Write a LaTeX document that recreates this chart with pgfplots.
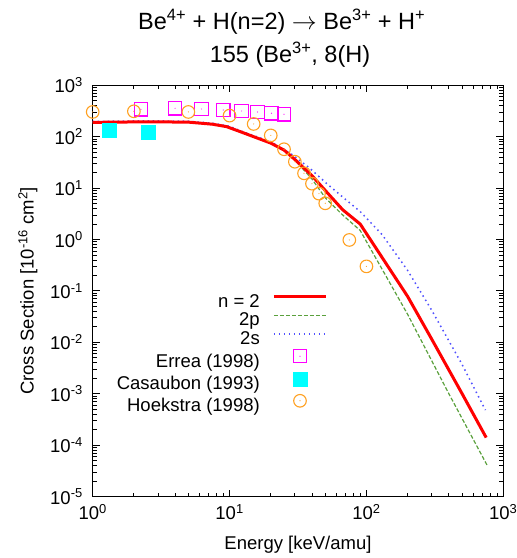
\documentclass[border=0pt]{standalone}
\usepackage{fontspec}
\setmainfont{Liberation Sans}
\usepackage{pgfplots}
\pgfplotsset{compat=1.18}

\newcommand\tickfont{\fontsize{18.5}{22}\selectfont}
\newcommand\titlefont{\fontsize{23.5}{28}\selectfont}

\definecolor{cN}{RGB}{255,0,0}
\definecolor{cP}{RGB}{90,160,60}
\definecolor{cS}{RGB}{80,80,255}
\definecolor{cErrea}{RGB}{255,0,255}
\definecolor{cCasa}{RGB}{0,255,255}
\definecolor{cHoek}{RGB}{255,160,32}

% open square / circle with a small dot in the middle (gnuplot style)
\pgfdeclareplotmark{sqdot}{%
  \pgfpathrectangle{\pgfqpoint{-\pgfplotmarksize}{-\pgfplotmarksize}}{\pgfqpoint{2\pgfplotmarksize}{2\pgfplotmarksize}}%
  \pgfusepathqstroke
  \pgfpathcircle{\pgfpointorigin}{0.6pt}\pgfusepathqfill}
\pgfdeclareplotmark{cidot}{%
  \pgfpathcircle{\pgfpointorigin}{\pgfplotmarksize}%
  \pgfusepathqstroke
  \pgfpathcircle{\pgfpointorigin}{0.6pt}\pgfusepathqfill}

\pgfplotsset{
  legline/.style={legend image code/.code={\draw[##1] (0pt,6.3pt) -- (52pt,6.3pt);}},
  legmark/.style={legend image code/.code={\draw[##1] plot coordinates {(26pt,6.3pt)};}},
}

\begin{document}
\begin{tikzpicture}
\begin{axis}[
    scale only axis,
    width=410.6pt, height=411.2pt,
    xmode=log, ymode=log,
    xmin=1, xmax=1000, ymin=1e-5, ymax=1e3,
    xtick={1,10,100,1000},
    xticklabels={10\textsuperscript{0},10\textsuperscript{1},10\textsuperscript{2},10\textsuperscript{3}},
    ytick={1e-5,1e-4,1e-3,1e-2,1e-1,1,10,100,1000},
    yticklabels={10\textsuperscript{-5},10\textsuperscript{-4},10\textsuperscript{-3},10\textsuperscript{-2},10\textsuperscript{-1},10\textsuperscript{0},10\textsuperscript{1},10\textsuperscript{2},10\textsuperscript{3}},
    minor xtick={2,3,4,5,6,7,8,9,20,30,40,50,60,70,80,90,200,300,400,500,600,700,800,900},
    minor ytick={2e-5,3e-5,4e-5,5e-5,6e-5,7e-5,8e-5,9e-5,
                 2e-4,3e-4,4e-4,5e-4,6e-4,7e-4,8e-4,9e-4,
                 2e-3,3e-3,4e-3,5e-3,6e-3,7e-3,8e-3,9e-3,
                 2e-2,3e-2,4e-2,5e-2,6e-2,7e-2,8e-2,9e-2,
                 0.2,0.3,0.4,0.5,0.6,0.7,0.8,0.9,
                 2,3,4,5,6,7,8,9,20,30,40,50,60,70,80,90,
                 200,300,400,500,600,700,800,900},
    tick align=inside,
    major tick length=7pt, minor tick length=4pt,
    tick style={black, line width=0.8pt},
    axis line style={line width=1pt},
    every tick label/.append style={font=\tickfont},
    xticklabel style={anchor=base, inner sep=0pt, yshift=-22.8pt},
    yticklabel style={anchor=east, inner sep=0pt, xshift=-9.7pt},
    xlabel={Energy [keV/amu]},
    ylabel={Cross Section [10\textsuperscript{-16} cm\textsuperscript{2}]},
    label style={font=\tickfont},
    xlabel style={at={(axis description cs:0.5,-0.1277)}, anchor=base},
    ylabel style={at={(axis description cs:-0.158,0.5)}, anchor=center},
    clip mode=individual,
    legend plot pos=right,
    legend cell align=right,
    legend style={at={(axis description cs:0.5723,0.4944)}, anchor=north east,
      draw=none, fill=none, font=\tickfont, inner sep=0pt,
      row sep=0pt, column sep=12.7pt,
      nodes={inner xsep=0pt, inner ysep=0.85pt, text height=13pt, text depth=4pt}},
]
% legend entries first, in the reference order
\addlegendimage{cN, line width=3pt, legline}
\addlegendentry{n = 2}
\addlegendimage{cP, line width=1.2pt, dash pattern=on 4pt off 2pt, legline}
\addlegendentry{2p}
\addlegendimage{cS, line width=1.5pt, dash pattern=on 1.5pt off 3.5pt, legline}
\addlegendentry{2s}
\addlegendimage{only marks, cErrea, mark=sqdot, mark size=6.7pt, mark options={line width=1.1pt}, legmark}
\addlegendentry{Errea (1998)}
\addlegendimage{only marks, cCasa, mark=square*, mark size=7pt, legmark}
\addlegendentry{Casaubon (1993)}
\addlegendimage{only marks, cHoek, mark=cidot, mark size=6.3pt, mark options={line width=1.1pt}, legmark}
\addlegendentry{Hoekstra (1998)}

% 2p
\addplot[cP, line width=1.2pt, dash pattern=on 4pt off 2pt, forget plot] coordinates {
 (1,190) (2.5,195) (5,192) (7.5,175) (9.5,157) (12,125) (20,75) (25,55) (30,35)
 (40,15) (50,6.5) (67,3.0) (90,1.5) (200,0.035) (400,1.0e-3) (760,4.1e-5)};
% 2s
\addplot[cS, line width=1.5pt, dash pattern=on 1.5pt off 3.5pt, forget plot] coordinates {
 (1,198) (2.5,204) (5,200) (7.5,183) (10,160) (12,130) (15,105) (20,80) (22,69)
 (29,44) (38.6,24.3) (51,12.4) (68,6.5) (90,3.5) (130,1.25) (200,0.25)
 (300,0.042) (500,3.7e-3) (740,4.8e-4)};
% n = 2
\addplot[cN, line width=3pt, forget plot] coordinates {
 (1,190) (2.5,195) (5,192) (7.5,175) (9.5,157) (12,125) (20,75) (25,55) (30,36)
 (40,17.5) (50,9) (67,3.8) (90,2.0) (200,0.078) (300,0.0115) (500,1.0e-3) (750,1.4e-4)};
% Errea (1998)
\addplot[only marks, cErrea, mark=sqdot, mark size=6.7pt, mark options={line width=1.1pt}, forget plot] coordinates {
 (2.25,341) (4,357) (6.25,346) (9,330) (12.25,316) (16,302) (20.25,285) (25,273)};
% Casaubon (1993)
\addplot[only marks, cCasa, mark=square*, mark size=7pt, forget plot] coordinates {
 (1.31,135) (2.56,125)};
% Hoekstra (1998)
\addplot[only marks, cHoek, mark=cidot, mark size=6.3pt, mark options={line width=1.1pt}, forget plot] coordinates {
 (1,303) (2,312) (5,303) (10,257) (15,177) (20,106) (25,57) (30,32.6) (35,19.4)
 (40,12.2) (45,7.8) (50,5.06) (75,0.98) (100,0.30)};
\end{axis}
\node[font=\titlefont, anchor=base] at ([xshift=-16.3pt,yshift=55.3pt]current axis.north)
  {Be\textsuperscript{4+} + H(n=2) $\rightarrow$ Be\textsuperscript{3+} + H\textsuperscript{+}};
\node[font=\titlefont, anchor=base] at ([xshift=-8pt,yshift=22.3pt]current axis.north)
  {155 (Be\textsuperscript{3+}, 8(H)};
\pgfresetboundingbox
\path ([shift={(-92.7pt,-61.5pt)}]current axis.south west) rectangle ([shift={(13.7pt,85.3pt)}]current axis.north east);
\end{tikzpicture}
\end{document}
